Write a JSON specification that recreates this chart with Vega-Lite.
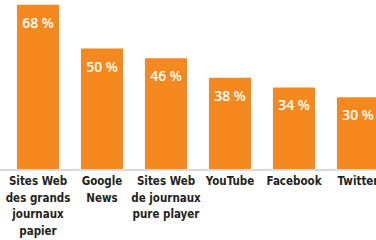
{
  "$schema": "https://vega.github.io/schema/vega-lite/v6.json",
  "autosize": "none",
  "width": 376,
  "height": 170,
  "padding": {"left": 0, "top": 0, "right": 0, "bottom": 70},
  "background": "white",
  "data": {
    "values": [
      {"source": "Sites Web|des grands|journaux|papier", "value": 68},
      {"source": "Google|News", "value": 50},
      {"source": "Sites Web|de journaux|pure player", "value": 46},
      {"source": "YouTube", "value": 38},
      {"source": "Facebook", "value": 34},
      {"source": "Twitter", "value": 30}
    ]
  },
  "config": {"view": {"stroke": null}},
  "encoding": {
    "x": {
      "field": "source",
      "type": "nominal",
      "sort": null,
      "scale": {"range": [17, 379], "paddingInner": 0.34375, "paddingOuter": 0},
      "axis": {
        "title": null,
        "domain": false,
        "ticks": false,
        "labelAngle": 0,
        "labelExpr": "split(datum.label, '|')",
        "labelFont": "DejaVu Sans Condensed",
        "labelFontWeight": "bold",
        "labelFontSize": 11.5,
        "labelColor": "#231f20",
        "labelLineHeight": 16.7,
        "labelPadding": 5.5,
        "labelOverlap": false,
        "labelBound": false,
        "labelFlush": false
      }
    }
  },
  "layer": [
    {
      "mark": {"type": "bar", "color": "#f5891f"},
      "encoding": {
        "y": {"field": "value", "type": "quantitative", "scale": {"domain": [0, 70], "nice": false}, "axis": null}
      }
    },
    {
      "mark": {"type": "rule", "color": "#d9d9d9", "strokeWidth": 1},
      "encoding": {"y": {"datum": 0, "type": "quantitative"}, "x": null}
    },
    {
      "mark": {"type": "text", "color": "white", "font": "Open Sans", "fontWeight": 600, "fontSize": 14, "baseline": "middle", "dy": 19, "text": {"expr": "datum.value + ' %'"}},
      "encoding": {
        "y": {"field": "value", "type": "quantitative"}
      }
    }
  ]
}
